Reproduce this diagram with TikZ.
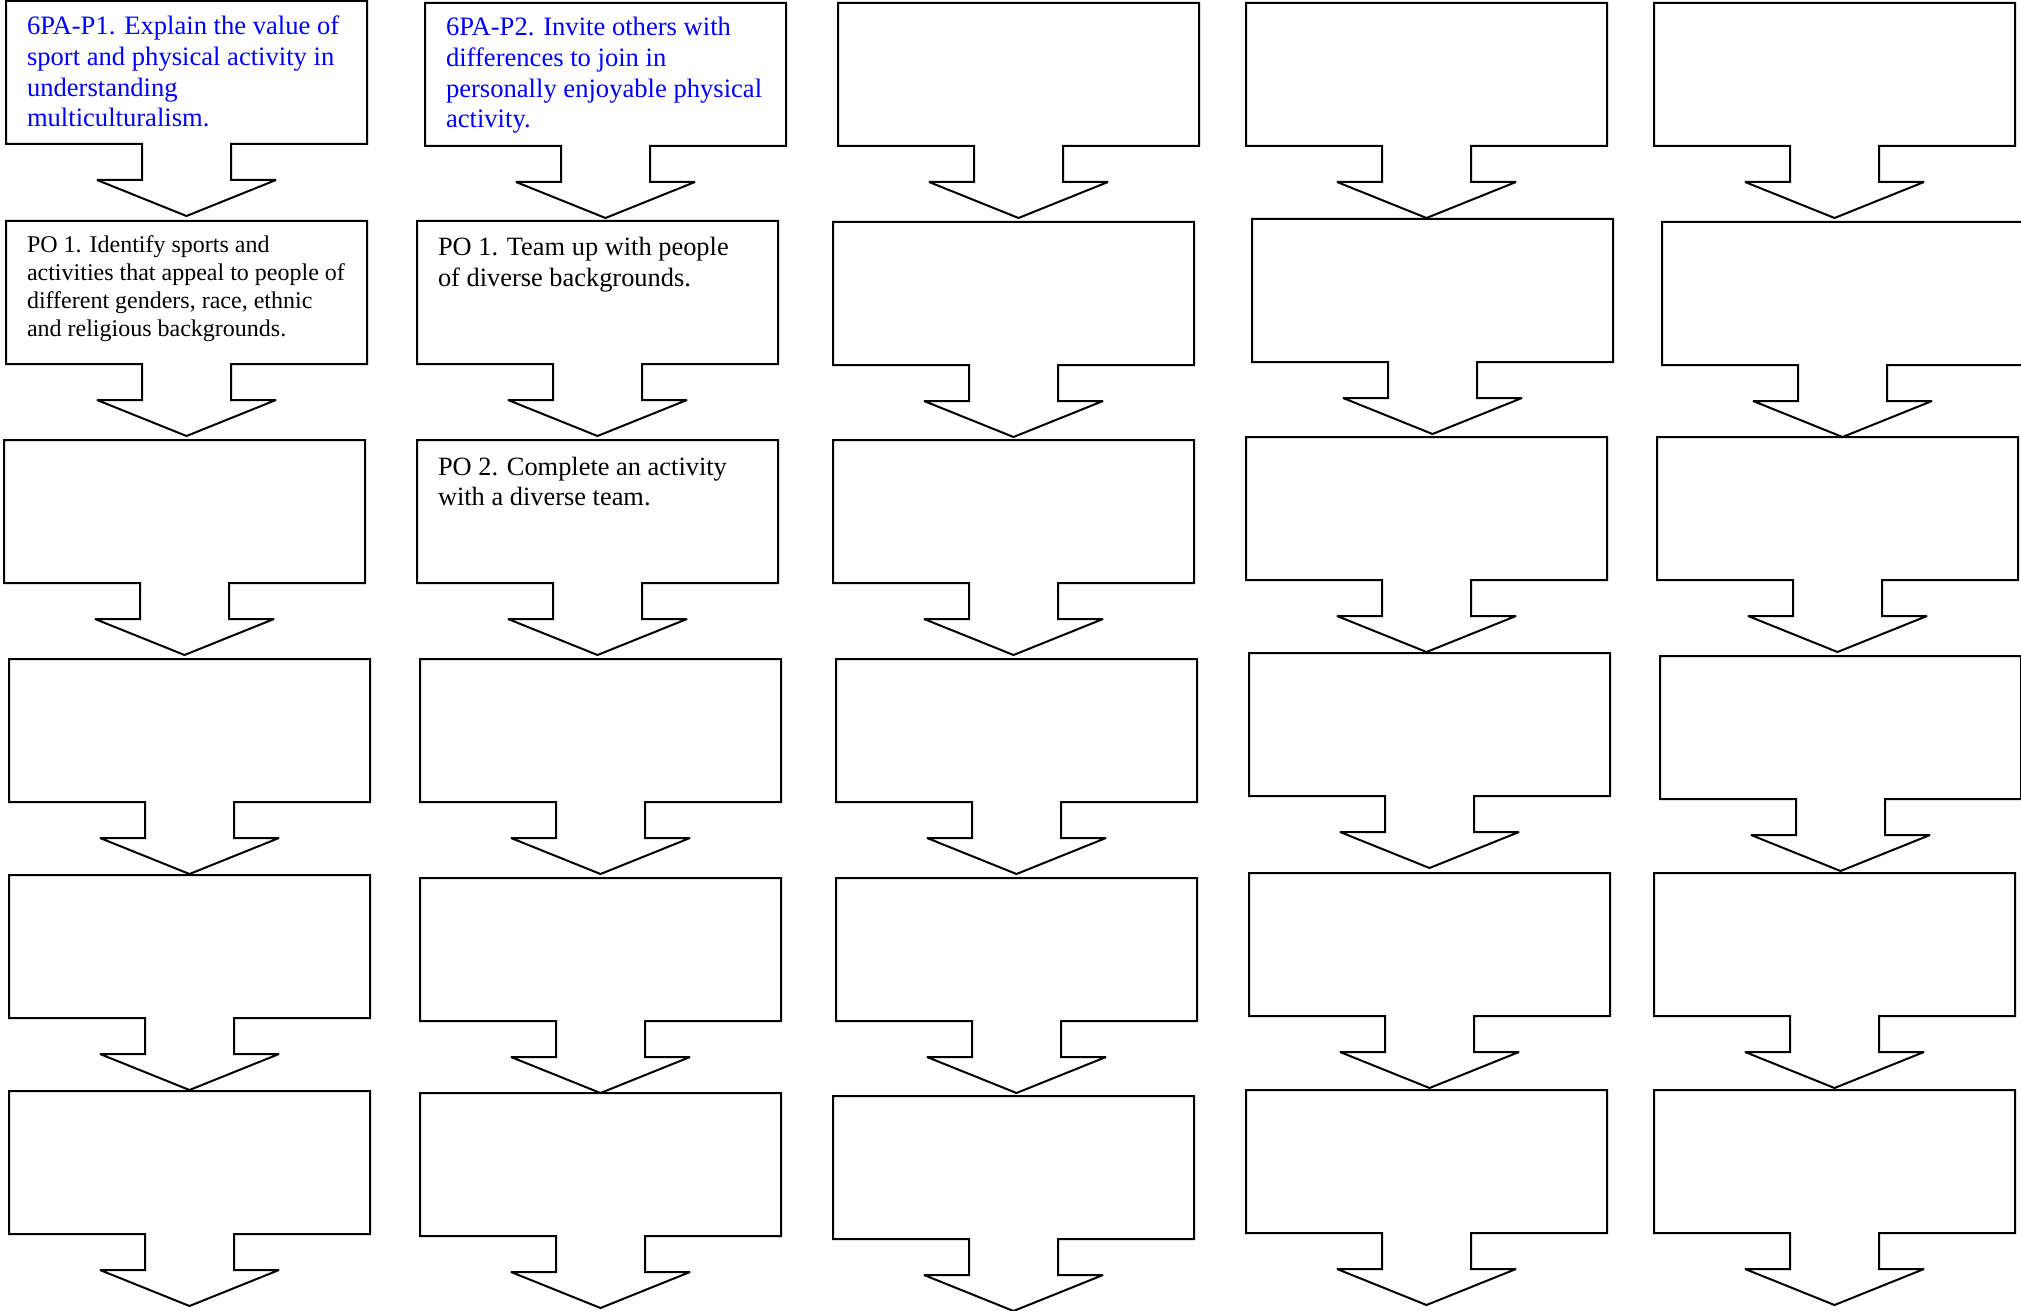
\documentclass[tikz,border=0pt]{standalone}
\usepackage{fontspec}
\setmainfont{Liberation Serif}
\usetikzlibrary{calc}
\definecolor{objblue}{RGB}{0,0,255}
\tikzset{
  boxnode/.style={minimum width=180.5pt,minimum height=71.5pt,inner sep=0pt,outer sep=0pt,anchor=north west},
  outline/.style={draw=black,line width=1pt,line join=miter,miter limit=2},
  txt/.style={anchor=base west,inner sep=0pt,outer sep=0pt},
  bluetxt/.style={txt,text=objblue,font=\fontsize{13.3}{15.3}\selectfont},
  blacktxt/.style={txt,text=black,font=\fontsize{13.2}{15.4}\selectfont},
  smalltxt/.style={txt,text=black,font=\fontsize{12}{13.9}\selectfont}
}
\newcommand\arrowbox[3]{%
  \node[boxnode] (#1) at (#2,#3) {};
  \draw[outline] (#1.north west) -- (#1.north east) -- (#1.south east)
    -- ++(-136,0) -- ++(0,36) -- ++(45,0) -- ++(-89.5,36) -- ++(-89.5,-36)
    -- ++(45,0) -- ++(0,-36) -- (#1.south west) -- cycle;
}
\begin{document}
\begin{tikzpicture}[x=0.5pt,y=-0.5pt]
\clip (0,0) rectangle (2021,1310);
\useasboundingbox (0,0) rectangle (2021,1310);
% column 1
\arrowbox{a1}{6}{1}
\arrowbox{a2}{6}{221}
\arrowbox{a3}{4}{440}
\arrowbox{a4}{9}{659}
\arrowbox{a5}{9}{875}
\arrowbox{a6}{9}{1091}
% column 2
\arrowbox{b1}{425}{3}
\arrowbox{b2}{417}{221}
\arrowbox{b3}{417}{440}
\arrowbox{b4}{420}{659}
\arrowbox{b5}{420}{878}
\arrowbox{b6}{420}{1093}
% column 3
\arrowbox{c1}{838}{3}
\arrowbox{c2}{833}{222}
\arrowbox{c3}{833}{440}
\arrowbox{c4}{836}{659}
\arrowbox{c5}{836}{878}
\arrowbox{c6}{833}{1096}
% column 4
\arrowbox{d1}{1246}{3}
\arrowbox{d2}{1252}{219}
\arrowbox{d3}{1246}{437}
\arrowbox{d4}{1249}{653}
\arrowbox{d5}{1249}{873}
\arrowbox{d6}{1246}{1090}
% column 5
\arrowbox{e1}{1654}{3}
\arrowbox{e2}{1662}{222}
\arrowbox{e3}{1657}{437}
\arrowbox{e4}{1660}{656}
\arrowbox{e5}{1654}{873}
\arrowbox{e6}{1654}{1090}
% texts
\node[bluetxt] (ta1) at ($(a1.north west)+(21,34)$)
  {\begin{tabular}[t]{@{}l@{}}6PA-P1. Explain the value of\\ sport and physical activity in\\ understanding\\ multiculturalism.\end{tabular}};
\node[bluetxt] (tb1) at ($(b1.north west)+(21,33)$)
  {\begin{tabular}[t]{@{}l@{}}6PA-P2. Invite others with\\ differences to join in\\ personally enjoyable physical\\ activity.\end{tabular}};
\node[smalltxt] (ta2) at ($(a2.north west)+(21,32)$)
  {\begin{tabular}[t]{@{}l@{}}PO 1. Identify sports and\\ activities that appeal to people of\\ different genders, race, ethnic\\ and religious backgrounds.\end{tabular}};
\node[blacktxt] (tb2) at ($(b2.north west)+(21,35)$)
  {\begin{tabular}[t]{@{}l@{}}PO 1. Team up with people\\ of diverse backgrounds.\end{tabular}};
\node[blacktxt] (tb3) at ($(b3.north west)+(21,35)$)
  {\begin{tabular}[t]{@{}l@{}}PO 2. Complete an activity\\ with a diverse team.\end{tabular}};
\end{tikzpicture}
\end{document}
